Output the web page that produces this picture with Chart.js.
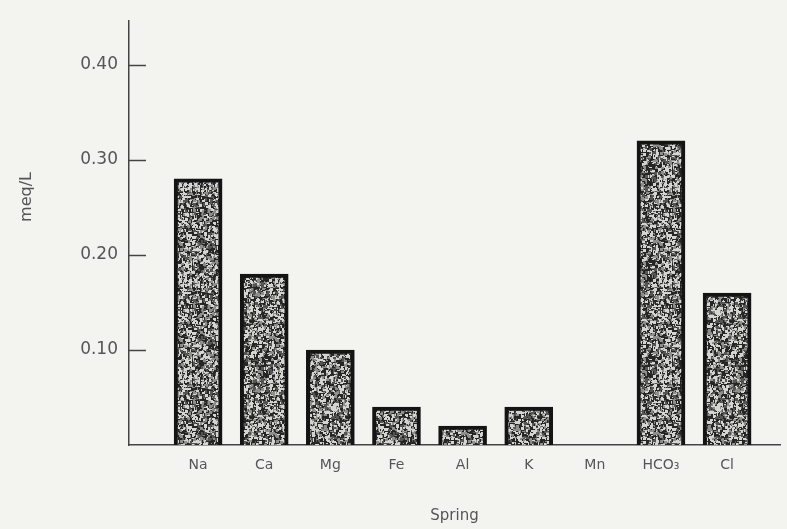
<!DOCTYPE html>
<html>
<head>
<meta charset="utf-8">
<script src="https://cdn.jsdelivr.net/npm/chart.js@4"></script>
<style>
  html, body { margin: 0; padding: 0; background: #f3f3f0; }
  #wrap { width: 787px; height: 529px; }
</style>
</head>
<body>
<div id="wrap"><canvas id="chart" width="787" height="529"></canvas></div>
<script>
// Datos
const ions = ["Na", "Ca", "Mg", "Fe", "Al", "K", "Mn", "HCO\u2083", "Cl"];
const meqPerL = [0.28, 0.18, 0.10, 0.04, 0.02, 0.04, 0, 0.32, 0.16];
const yTicks = [0.10, 0.20, 0.30, 0.40];

// Textura moteada para imitar el escaneo (solo estilo)
function speckle() {
    const c = document.createElement("canvas");
    c.width = 96; c.height = 96;
    const g = c.getContext("2d");
    g.fillStyle = "#262626";
    g.fillRect(0, 0, 96, 96);
    let s = 12345;
    const next = () => { s = (s * 1103515245 + 12345) % 2147483648; return s / 2147483648; };
    for (let i = 0; i < 2600; i++) {
        const x = Math.floor(next() * 96), y = Math.floor(next() * 96);
        const r = next();
        g.fillStyle = r < 0.45 ? "#d4d4d0" : (r < 0.75 ? "#8e8e8a" : "#555553");
        g.fillRect(x, y, 1 + Math.floor(next() * 3), 1 + Math.floor(next() * 3));
    }
    return g.createPattern(c, "repeat");
}

const ink = "#555";
const family = "'DejaVu Sans', 'Liberation Sans', sans-serif";

const decor = {
    id: "decor",
    beforeDraw(chart) {
        const ctx = chart.ctx;
        ctx.save();
        ctx.fillStyle = "#f3f3f0";
        ctx.fillRect(0, 0, chart.width, chart.height);
        ctx.restore();
    },
    afterDraw(chart) {
        const ctx = chart.ctx;
        const y = chart.scales.y;
        const left = chart.chartArea.left;
        ctx.save();
        // marcas del eje y hacia dentro
        ctx.strokeStyle = "#444";
        ctx.lineWidth = 1.5;
        yTicks.forEach(v => {
            const py = Math.round(y.getPixelForValue(v)) + 0.5;
            ctx.beginPath();
            ctx.moveTo(left, py);
            ctx.lineTo(left + 17, py);
            ctx.stroke();
        });
        // título del eje y
        ctx.translate(27, 197);
        ctx.rotate(-Math.PI / 2);
        ctx.fillStyle = ink;
        ctx.font = "16px " + family;
        ctx.textAlign = "center";
        ctx.textBaseline = "middle";
        ctx.fillText("meq/L", 0, 0);
        ctx.restore();
    }
};

new Chart(document.getElementById("chart").getContext("2d"), {
    type: "bar",
    data: {
        datasets: [{
            label: "Spring",
            data: meqPerL.map((v, i) => ({ x: i + 1, y: v })),
            backgroundColor: speckle(),
            borderColor: "#141414",
            borderWidth: { left: 4, right: 4, top: 4, bottom: 0 },
            borderSkipped: "bottom",
            barThickness: 48,
        }],
    },
    options: {
        responsive: false,
        animation: false,
        layout: { padding: { top: 14, right: 7, left: 0, bottom: 0 } },
        plugins: {
            legend: { display: false },
            tooltip: { enabled: false },
        },
        scales: {
            x: {
                type: "linear",
                offset: false,
                min: -0.045,
                max: 9.8,
                afterBuildTicks: s => { s.ticks = ions.map((_, i) => ({ value: i + 1 })); },
                afterFit: s => { s.height = 84; },
                ticks: {
                    callback: v => ions[v - 1] || "",
                    color: ink,
                    font: { family, size: 14 },
                    padding: 12,
                    maxRotation: 0,
                    autoSkip: false,
                },
                grid: { display: false, drawTicks: false, offset: false },
                border: { display: true, color: "#444", width: 1.5 },
                title: {
                    display: true,
                    text: "Spring",
                    color: ink,
                    font: { family, size: 15 },
                    padding: { top: 28 },
                },
            },
            y: {
                min: 0,
                max: 0.446,
                afterBuildTicks: s => { s.ticks = yTicks.map(v => ({ value: v })); },
                afterFit: s => { s.width = 129; },
                ticks: {
                    callback: v => v.toFixed(2),
                    color: ink,
                    font: { family, size: 17 },
                    padding: 11,
                },
                grid: { display: false, drawTicks: false },
                border: { display: true, color: "#444", width: 1.5 },
            },
        },
    },
    plugins: [decor],
});
</script>
</body>
</html>
